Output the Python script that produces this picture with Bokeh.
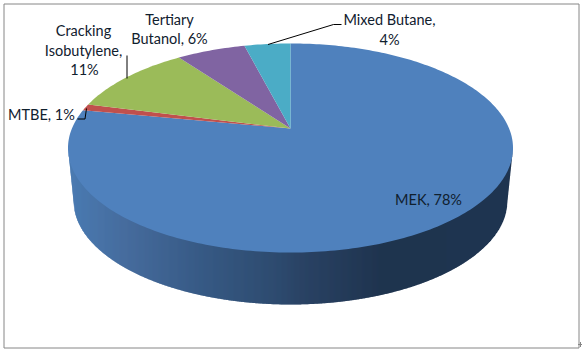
from math import sin, cos, radians, sqrt
from bokeh.plotting import figure
from bokeh.models import Range1d
from bokeh.core.properties import value
from bokeh.embed import file_html
from bokeh.resources import INLINE

categories = ["MEK", "MTBE", "Cracking Isobutylene", "Tertiary Butanol", "Mixed Butane"]
shares = [78, 1, 11, 6, 4]
colors = ["#4f81bd", "#c0504d", "#9bbb59", "#8064a2", "#4bacc6"]

label_lines = ["MEK, 78%", "MTBE, 1%", "Cracking", "Isobutylene,", "11%",
               "Tertiary", "Butanol, 6%", "Mixed Butane,", "4%"]
label_x = [428, 41, 83, 83, 84, 169, 169, 389, 389]
label_y = [199, 114, 30, 50, 69, 19, 38, 19, 39]

leader_xs = [[77, 84.5, 86], [126.5, 126.5], [267.5, 333, 341]]
leader_ys = [[118.5, 118.5, 108], [55, 78], [44, 24, 24]]

grad_x = [68, 125, 200, 280, 300, 380, 513]
grad_c = ["#4a7bb2", "#466c9d", "#375a85", "#2d4a6e", "#2a4365", "#1f344f", "#1f3450"]

CX, CY = 290.0, 128.0      # apex of the slices
K, H, W = 0.1866, 100.9, 218.6  # perspective, depth, width of the top face
TOP_CY, TOP_A, TOP_B = 147.5, 222.5, 104.5
BOT_CY, BOT_A, BOT_B = 200.0, 217.0, 104.0


def rim(deg):
    u, v = sin(radians(deg)), cos(radians(deg))
    d = 1 + K * v
    return CX + W * u / d, CY - H * v / d


def hex_rgb(c):
    return tuple(int(c[i:i + 2], 16) for i in (1, 3, 5))


def shade(x):
    for i in range(len(grad_x) - 1):
        if x <= grad_x[i + 1]:
            t = (x - grad_x[i]) / (grad_x[i + 1] - grad_x[i])
            a, b = hex_rgb(grad_c[i]), hex_rgb(grad_c[i + 1])
            return "#%02x%02x%02x" % tuple(round(a[j] + (b[j] - a[j]) * t) for j in range(3))
    return grad_c[-1]


def lower(x, cy, a, b):
    r = (x - CX) / a
    return cy + b * sqrt(max(0.0, 1 - r * r))


def side_bottom(x):
    off = abs(x - CX)
    if off <= BOT_A:
        return lower(x, BOT_CY, BOT_A, BOT_B)
    t = (off - BOT_A) / (TOP_A - BOT_A)
    return BOT_CY + (TOP_CY - BOT_CY) * t


p = figure(width=582, height=352, output_backend="svg", toolbar_location=None,
           x_range=Range1d(0, 582), y_range=Range1d(352, 0),
           x_axis_location=None, y_axis_location=None,
           min_border=0, outline_line_color=None)
p.grid.visible = False

# chart-area frame and resize mark
p.quad(left=[3.5], right=[578.5], top=[3.5], bottom=[347.5], fill_color=None,
       line_color="#868686", line_width=1)
p.scatter([580], [344], marker="cross", size=5, line_color="#868686")

# side wall, columns shaded left to right, each overlapping the next
xs, ys, cs = [], [], []
x = int(CX - TOP_A)
while x < CX + TOP_A:
    x0, x1 = max(x, CX - TOP_A), min(x + 1.6, CX + TOP_A)
    xs.append([x0, x1, x1, x0])
    ys.append([lower(x0, TOP_CY, TOP_A, TOP_B) - 2, lower(x1, TOP_CY, TOP_A, TOP_B) - 2,
               side_bottom(x1), side_bottom(x0)])
    cs.append(shade(x + 0.5))
    x += 1
p.patches(xs, ys, fill_color=cs, fill_alpha=1.0, line_color=None)

# top face
start = 0.0
for share, color in zip(shares, colors):
    end = start + share * 3.6
    n = max(2, int(share * 3.6))
    pts = [rim(start + (end - start) * i / n) for i in range(n + 1)]
    p.patch([CX] + [q[0] for q in pts], [CY] + [q[1] for q in pts],
            fill_color=color, fill_alpha=1.0, line_color=None)
    start = end

p.multi_line(leader_xs, leader_ys, line_color="black", line_width=1)
p.text(label_x, label_y, text=label_lines, text_font=value("Lato"),
       text_font_size="14.5px", text_color="#10202e",
       text_align="center", text_baseline="middle")

open("out.html", "w").write(file_html(p, INLINE))
